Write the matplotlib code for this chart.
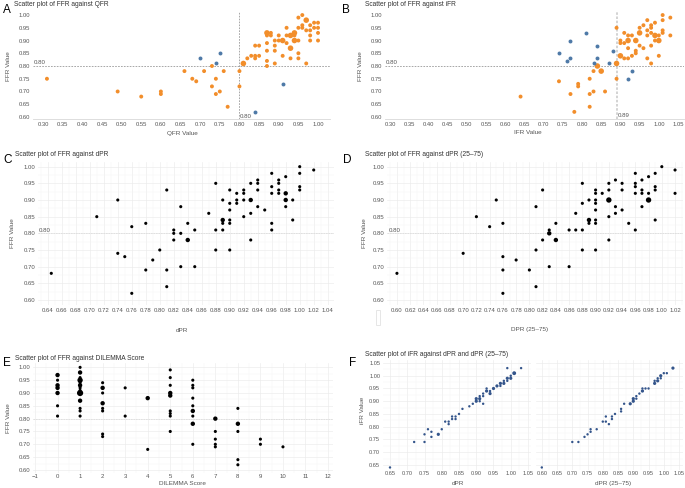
import numpy as np
import matplotlib
matplotlib.use("Agg")
import matplotlib.pyplot as plt
from matplotlib.ticker import MultipleLocator
from matplotlib.patches import Rectangle

plt.rcParams['font.family'] = ['Liberation Sans', 'DejaVu Sans']

# ---------------- data ----------------
# A: FFR vs QFR  (n = number of overlapping patients at that point)
a_orange_x = [0.31, 0.49, 0.55, 0.60, 0.60, 0.66, 0.68, 0.69, 0.71, 0.73, 0.73, 0.74, 0.74, 0.75,
              0.76, 0.77, 0.80, 0.80, 0.81, 0.82, 0.83, 0.84, 0.84, 0.84, 0.85, 0.85, 0.87, 0.87,
              0.87, 0.87, 0.87, 0.87, 0.88, 0.88, 0.89, 0.89, 0.89, 0.89, 0.90, 0.90, 0.91, 0.91,
              0.92, 0.92, 0.92, 0.93, 0.93, 0.93, 0.94, 0.94, 0.94, 0.95, 0.95, 0.95, 0.95, 0.95,
              0.96, 0.96, 0.96, 0.97, 0.97, 0.97, 0.98, 0.98, 0.98, 0.98, 0.99, 0.99, 1.00, 1.00,
              1.00, 1.00]
a_orange_y = [0.75, 0.70, 0.68, 0.70, 0.69, 0.78, 0.75, 0.74, 0.78, 0.80, 0.72, 0.75, 0.69, 0.70,
              0.78, 0.64, 0.78, 0.72, 0.81, 0.83, 0.84, 0.88, 0.84, 0.83, 0.88, 0.84, 0.93, 0.92,
              0.89, 0.86, 0.82, 0.80, 0.93, 0.92, 0.90, 0.88, 0.86, 0.81, 0.92, 0.90, 0.90, 0.84,
              0.95, 0.92, 0.89, 0.92, 0.87, 0.83, 0.93, 0.92, 0.90, 0.99, 0.95, 0.90, 0.85, 0.83,
              1.00, 0.96, 0.95, 0.98, 0.94, 0.81, 0.96, 0.94, 0.92, 0.90, 0.97, 0.95, 0.97, 0.95,
              0.93, 0.90]
a_orange_n = [1, 1, 1, 1, 1, 1, 1, 1, 1, 1, 1, 1, 1, 1,
              1, 1, 1, 1, 2, 1, 1, 1, 1, 1, 1, 1, 2, 1,
              1, 1, 1, 1, 1, 1, 1, 1, 1, 1, 1, 1, 2, 1,
              1, 1, 1, 2, 2, 1, 2, 1, 2, 1, 1, 1, 1, 1,
              1, 1, 1, 2, 1, 1, 1, 1, 1, 1, 1, 1, 1, 1,
              1, 1]
a_blue_x = [0.70, 0.74, 0.75, 0.84, 0.91]
a_blue_y = [0.83, 0.81, 0.85, 0.62, 0.73]

# B: FFR vs iFR
b_orange_x = [0.64, 0.74, 0.77, 0.78, 0.79, 0.79, 0.82, 0.82, 0.82, 0.83, 0.83, 0.84, 0.85, 0.86,
              0.89, 0.89, 0.89, 0.90, 0.90, 0.90, 0.91, 0.91, 0.91, 0.92, 0.92, 0.92, 0.92, 0.93,
              0.93, 0.94, 0.94, 0.94, 0.95, 0.95, 0.95, 0.96, 0.96, 0.97, 0.97, 0.97, 0.97, 0.98,
              0.98, 0.98, 0.98, 0.98, 0.99, 0.99, 0.99, 1.00, 1.00, 1.00, 1.01, 1.01, 1.01, 1.01,
              1.03, 1.03]
b_orange_y = [0.68, 0.74, 0.69, 0.62, 0.73, 0.72, 0.75, 0.69, 0.64, 0.78, 0.70, 0.80, 0.78, 0.70,
              0.95, 0.81, 0.75, 0.90, 0.89, 0.84, 0.93, 0.89, 0.83, 0.92, 0.90, 0.87, 0.83, 0.92,
              0.84, 0.90, 0.86, 0.85, 0.95, 0.93, 0.88, 0.96, 0.87, 0.98, 0.94, 0.92, 0.83, 0.96,
              0.95, 0.93, 0.88, 0.81, 0.97, 0.92, 0.90, 0.92, 0.90, 0.84, 1.00, 0.98, 0.94, 0.93,
              0.99, 0.92]
b_orange_n = [1, 1, 1, 1, 1, 1, 1, 1, 1, 1, 1, 2, 2, 1,
              1, 2, 1, 1, 1, 2, 1, 1, 1, 1, 2, 1, 1, 1,
              1, 2, 1, 1, 1, 2, 1, 1, 1, 1, 1, 1, 1, 1,
              1, 1, 1, 1, 1, 2, 1, 1, 2, 1, 1, 1, 1, 1,
              1, 1]
b_blue_x = [0.74, 0.76, 0.77, 0.77, 0.81, 0.84, 0.84, 0.83, 0.87, 0.88, 0.92, 0.93]
b_blue_y = [0.85, 0.82, 0.83, 0.90, 0.93, 0.88, 0.83, 0.81, 0.81, 0.86, 0.75, 0.78]

# C: FFR vs dPR
c_x = [0.645, 0.71, 0.74, 0.74, 0.75, 0.76, 0.76, 0.78, 0.78, 0.79, 0.80, 0.81, 0.81, 0.81,
       0.82, 0.82, 0.82, 0.83, 0.83, 0.83, 0.84, 0.84, 0.85, 0.85, 0.87, 0.88, 0.88, 0.88,
       0.89, 0.89, 0.89, 0.89, 0.90, 0.90, 0.90, 0.90, 0.90, 0.90, 0.91, 0.91, 0.91, 0.92,
       0.92, 0.92, 0.92, 0.93, 0.93, 0.93, 0.93, 0.94, 0.94, 0.94, 0.94, 0.95, 0.96, 0.96,
       0.96, 0.96, 0.96, 0.97, 0.97, 0.97, 0.97, 0.98, 0.98, 0.98, 0.98, 0.99, 0.99, 1.00,
       1.00, 1.00, 1.00, 1.02]
c_y = [0.68, 0.85, 0.90, 0.74, 0.73, 0.82, 0.62, 0.83, 0.69, 0.72, 0.75, 0.93, 0.69, 0.64,
       0.81, 0.80, 0.78, 0.88, 0.80, 0.70, 0.83, 0.78, 0.81, 0.70, 0.86, 0.95, 0.81, 0.75,
       0.90, 0.84, 0.83, 0.81, 0.93, 0.89, 0.87, 0.84, 0.83, 0.75, 0.92, 0.90, 0.89, 0.93,
       0.92, 0.90, 0.85, 0.95, 0.90, 0.86, 0.78, 0.96, 0.95, 0.93, 0.88, 0.87, 0.98, 0.94,
       0.92, 0.83, 0.81, 0.96, 0.95, 0.93, 0.92, 0.97, 0.92, 0.90, 0.88, 0.90, 0.84, 1.00,
       0.98, 0.94, 0.93, 0.99]
c_n = [1, 1, 1, 1, 1, 1, 1, 1, 1, 1, 1, 1, 1, 1,
       1, 1, 1, 1, 1, 1, 1, 2, 1, 1, 1, 1, 1, 1,
       1, 2, 1, 1, 1, 1, 1, 1, 1, 1, 1, 1, 1, 1,
       1, 1, 1, 1, 2, 1, 1, 1, 1, 1, 1, 1, 1, 1,
       1, 1, 1, 1, 1, 1, 1, 1, 2, 2, 1, 1, 1, 1,
       1, 1, 1, 1]

# D: FFR vs dPR (25-75)
d_x = [0.60, 0.70, 0.72, 0.74, 0.75, 0.76, 0.76, 0.76, 0.76, 0.78, 0.80, 0.81, 0.81, 0.81,
       0.82, 0.82, 0.83, 0.83, 0.83, 0.84, 0.84, 0.86, 0.86, 0.87, 0.87, 0.88, 0.88, 0.88,
       0.88, 0.89, 0.89, 0.89, 0.90, 0.90, 0.90, 0.90, 0.90, 0.90, 0.90, 0.90, 0.91, 0.92,
       0.92, 0.92, 0.92, 0.92, 0.93, 0.93, 0.93, 0.94, 0.94, 0.94, 0.95, 0.96, 0.96, 0.96,
       0.96, 0.96, 0.97, 0.97, 0.97, 0.97, 0.98, 0.98, 0.98, 0.99, 0.99, 0.99, 0.99, 1.00,
       1.02, 1.02]
d_y = [0.68, 0.74, 0.85, 0.82, 0.90, 0.83, 0.73, 0.69, 0.62, 0.72, 0.69, 0.88, 0.75, 0.64,
       0.93, 0.78, 0.81, 0.80, 0.70, 0.83, 0.78, 0.81, 0.70, 0.86, 0.81, 0.95, 0.89, 0.81,
       0.75, 0.90, 0.84, 0.83, 0.93, 0.92, 0.90, 0.89, 0.87, 0.84, 0.83, 0.75, 0.92, 0.95,
       0.93, 0.90, 0.85, 0.78, 0.86, 0.96, 0.88, 0.95, 0.93, 0.87, 0.83, 0.98, 0.95, 0.94,
       0.92, 0.81, 0.96, 0.93, 0.92, 0.88, 0.97, 0.92, 0.90, 0.98, 0.94, 0.93, 0.84, 1.00,
       0.99, 0.92]
d_n = [1, 1, 1, 1, 1, 1, 1, 1, 1, 1, 1, 1, 1, 1,
       1, 1, 1, 2, 1, 1, 2, 1, 1, 1, 1, 1, 1, 1,
       1, 1, 2, 1, 1, 1, 1, 1, 1, 1, 1, 1, 1, 1,
       1, 3, 1, 1, 1, 1, 1, 1, 1, 1, 1, 1, 1, 1,
       1, 1, 1, 1, 1, 1, 1, 1, 3, 1, 1, 1, 1, 1,
       1, 1]

# E: FFR vs DILEMMA score
e_x = [0, 0, 0, 0, 0, 0, 0,
       1, 1, 1, 1, 1, 1, 1, 1, 1, 1, 1, 1, 1,
       2, 2, 2, 2, 2, 2, 2, 2,
       3, 3, 4, 4,
       5, 5, 5, 5, 5, 5, 5, 5, 5,
       6, 6, 6, 6, 6, 6, 6, 6, 6,
       7, 7, 7, 7, 7,
       8, 8, 8, 8, 8,
       9, 9, 10]
e_y = [0.97, 0.95, 0.93, 0.92, 0.90, 0.85, 0.81,
       1.00, 0.98, 0.96, 0.95, 0.94, 0.93, 0.92, 0.91, 0.90, 0.87, 0.84, 0.83, 0.81,
       0.94, 0.92, 0.90, 0.86, 0.84, 0.83, 0.74, 0.73,
       0.92, 0.81, 0.88, 0.68,
       0.99, 0.96, 0.93, 0.90, 0.89, 0.83, 0.82, 0.81, 0.75,
       0.95, 0.93, 0.92, 0.88, 0.85, 0.83, 0.81, 0.78, 0.70,
       0.80, 0.75, 0.72, 0.70, 0.69,
       0.84, 0.78, 0.75, 0.64, 0.62,
       0.72, 0.70, 0.69]
e_n = [2, 1, 2, 2, 2, 1, 1,
       1, 2, 1, 3, 1, 2, 1, 1, 4, 2, 1, 1, 1,
       1, 2, 1, 2, 1, 1, 1, 1,
       1, 1, 2, 1,
       1, 1, 1, 2, 2, 1, 1, 1, 1,
       1, 1, 1, 1, 1, 2, 1, 2, 1,
       2, 1, 1, 1, 1,
       1, 2, 1, 1, 1,
       1, 1, 1]

# F: iFR vs dPR and vs dPR (25-75)
f_dpr = [0.65, 0.72, 0.75, 0.75, 0.76, 0.77, 0.77, 0.79, 0.80, 0.81, 0.82, 0.82, 0.83, 0.83,
         0.84, 0.84, 0.85, 0.86, 0.88, 0.89, 0.90, 0.90, 0.91, 0.91, 0.91, 0.92, 0.92, 0.92,
         0.93, 0.93, 0.94, 0.94, 0.95, 0.96, 0.97, 0.97, 0.98, 0.98, 0.99, 0.99, 0.99, 1.00,
         1.00, 1.01, 1.03]
f_dpr_ifr = [0.64, 0.74, 0.74, 0.77, 0.79, 0.78, 0.76, 0.77, 0.79, 0.82, 0.82, 0.81, 0.83, 0.84,
             0.84, 0.83, 0.85, 0.87, 0.88, 0.89, 0.90, 0.91, 0.91, 0.92, 0.90, 0.89, 0.93, 0.92,
             0.95, 0.94, 0.94, 0.93, 0.95, 0.96, 0.97, 0.96, 0.97, 0.98, 0.98, 1.03, 0.99, 0.99,
             1.00, 1.01, 1.03]
f_dpr_n = [1, 1, 1, 1, 1, 1, 1, 2, 1, 1, 1, 1, 1, 1,
           1, 1, 1, 1, 1, 1, 2, 2, 2, 1, 1, 1, 1, 1,
           1, 2, 1, 2, 2, 2, 2, 1, 2, 1, 1, 1, 2, 2,
           1, 3, 1]
f_q_x = [0.60, 0.70, 0.72, 0.74, 0.75, 0.76, 0.76, 0.78, 0.80, 0.81, 0.81, 0.82, 0.83, 0.83,
         0.84, 0.86, 0.86, 0.87, 0.89, 0.90, 0.90, 0.91, 0.91, 0.92, 0.93, 0.93, 0.94, 0.95,
         0.97, 0.97, 0.98, 0.98, 0.99, 0.99, 1.00, 1.01, 1.03]
f_q_ifr = [0.64, 0.74, 0.74, 0.76, 0.77, 0.78, 0.79, 0.79, 0.82, 0.84, 0.82, 0.81, 0.83, 0.84,
           0.85, 0.86, 0.87, 0.89, 0.89, 0.90, 0.91, 0.91, 0.92, 0.93, 0.94, 0.95, 0.95, 0.95,
           0.97, 0.98, 0.98, 0.99, 0.99, 1.00, 1.01, 1.01, 1.03]
f_q_n = [1, 1, 1, 1, 1, 1, 1, 1, 1, 1, 1, 1, 1, 1,
         1, 1, 1, 1, 2, 2, 2, 1, 1, 1, 2, 1, 1, 1,
         2, 1, 2, 1, 1, 2, 1, 1, 2]

# ---------------- figure ----------------
W, H = 685, 488
ORANGE = '#F28E2B'
BLUE = '#4E79A7'
NAVY = '#34558B'
TXT = '#555555'

fig = plt.figure(figsize=(W / 100, H / 100), dpi=100)


def px_axes(x0, y0, x1, y1):
    return fig.add_axes([x0 / W, 1 - y1 / H, (x1 - x0) / W, (y1 - y0) / H])


def ftext(x, y, s, **kw):
    kw.setdefault('color', TXT)
    kw.setdefault('fontsize', 4.6)
    kw.setdefault('va', 'center')
    fig.text(x / W, 1 - y / H, s, **kw)


def sizes(n, base, grow=1.0):
    return [base * (1 + grow * (k - 1)) for k in n]


def tableau_style(ax):
    for side in ['top', 'right', 'left']:
        ax.spines[side].set_visible(False)
    ax.spines['bottom'].set_color('#d8d8d8')
    ax.spines['bottom'].set_linestyle((0, (1, 1)))
    ax.spines['bottom'].set_linewidth(0.6)
    ax.tick_params(length=0, labelsize=4.2, colors=TXT, pad=2)
    ax.yaxis.set_major_locator(MultipleLocator(0.05))
    ax.xaxis.set_major_locator(MultipleLocator(0.05))
    ax.xaxis.set_major_formatter(lambda v, p: f'{v:.2f}')
    ax.yaxis.set_major_formatter(lambda v, p: f'{v:.2f}')


def minimal_style(ax, xmaj, ymaj=0.05, fmt='{:.2f}', size=4.3, xpad=2):
    for side in ax.spines:
        ax.spines[side].set_visible(False)
    ax.tick_params(which='both', length=0, labelsize=size, colors=TXT, pad=2)
    ax.tick_params(axis='x', pad=xpad)
    ax.xaxis.set_major_locator(MultipleLocator(xmaj))
    ax.xaxis.set_minor_locator(MultipleLocator(xmaj / 2))
    ax.yaxis.set_major_locator(MultipleLocator(ymaj))
    ax.yaxis.set_minor_locator(MultipleLocator(ymaj / 2))
    ax.xaxis.set_major_formatter(lambda v, p: fmt.format(v))
    ax.yaxis.set_major_formatter(lambda v, p: f'{v:.2f}')
    ax.grid(which='major', color='#ebebeb', lw=0.45)
    ax.grid(which='minor', color='#f4f4f4', lw=0.3)
    ax.set_axisbelow(True)


# ---- A ----
axA = px_axes(33, 12, 330, 119)
axA.scatter(a_orange_x, a_orange_y, s=sizes(a_orange_n, 8), c=ORANGE, lw=0, zorder=3)
axA.scatter(a_blue_x, a_blue_y, s=8, c=BLUE, lw=0, zorder=3)
axA.set_xlim(0.2745, 1.0305)
axA.set_ylim(0.592, 1.012)
tableau_style(axA)
axA.axhline(0.80, color='#999999', lw=0.6, ls=(0, (2, 1.5)), zorder=2)
axA.axvline(0.80, color='#999999', lw=0.6, ls=(0, (2, 1.5)), zorder=2)
axA.text(0.277, 0.802, '0.80', fontsize=4.4, color=TXT, va='bottom')
axA.text(0.801, 0.603, '0.80', fontsize=4.4, color=TXT, va='center')

# ---- B ----
axB = px_axes(385, 12, 684, 119)
axB.scatter(b_orange_x, b_orange_y, s=sizes(b_orange_n, 8), c=ORANGE, lw=0, zorder=3)
axB.scatter(b_blue_x, b_blue_y, s=8, c=BLUE, lw=0, zorder=3)
axB.set_xlim(0.287, 1.0656)
axB.set_ylim(0.592, 1.012)
tableau_style(axB)
axB.axhline(0.80, color='#999999', lw=0.6, ls=(0, (2, 1.5)), zorder=2)
axB.axvline(0.89, color='#cccccc', lw=1.2, ls=(0, (1.5, 1)), zorder=2)
axB.text(0.29, 0.802, '0.80', fontsize=4.4, color=TXT, va='bottom')
axB.text(0.893, 0.607, '0.89', fontsize=4.4, color=TXT, va='center')

# ---- C ----
axC = px_axes(38, 162, 334, 305)
axC.scatter(c_x, c_y, s=sizes(c_n, 5), c='black', lw=0, zorder=3)
axC.set_xlim(0.626, 1.049)
axC.set_ylim(0.585, 1.014)
minimal_style(axC, 0.02)
axC.axhline(0.80, color='#dddddd', lw=0.6, ls=(0, (2, 1)), zorder=1)
axC.text(0.6275, 0.802, '0.80', fontsize=4.4, color=TXT, va='bottom')

# ---- D ----
axD = px_axes(387, 162, 683, 305)
axD.scatter(d_x, d_y, s=sizes(d_n, 5), c='black', lw=0, zorder=3)
axD.set_xlim(0.585, 1.032)
axD.set_ylim(0.585, 1.014)
minimal_style(axD, 0.02)
axD.axhline(0.80, color='#dddddd', lw=0.6, ls=(0, (2, 1)), zorder=1)
axD.text(0.587, 0.802, '0.80', fontsize=4.4, color=TXT, va='bottom')
# faint empty box left of the D tick labels, as in the source image
fig.patches.append(Rectangle((376 / W, 1 - 325 / H), 4 / W, 15 / H, transform=fig.transFigure,
                             fill=False, edgecolor='#e2e2e2', lw=0.6))

# ---- E ----
axE = px_axes(33, 363, 333, 473)
axE.scatter(e_x, e_y, s=sizes(e_n, 5), c='black', lw=0, zorder=3)
axE.set_xlim(-1.089, 12.22)
axE.set_ylim(0.588, 1.017)
minimal_style(axE, 1, xpad=0.8)
axE.xaxis.set_major_formatter(lambda v, p: f'{v:.0f}'.replace('-', '\u2212'))
axE.axhline(0.80, color='#dddddd', lw=0.6, ls=(0, (2, 1)), zorder=1)

# ---- F ----
axF1 = px_axes(383, 360, 531, 470)
axF1.scatter(f_dpr, f_dpr_ifr, s=sizes(f_dpr_n, 3, 0.8), c=NAVY, lw=0, zorder=3)
axF1.set_xlim(0.6297, 1.0587)
axF1.set_ylim(0.630, 1.0618)
minimal_style(axF1, 0.05, size=4.1, xpad=0.8)

axF2 = px_axes(536, 360, 683, 470)
axF2.scatter(f_q_x, f_q_ifr, s=sizes(f_q_n, 3, 0.8), c=NAVY, lw=0, zorder=3)
axF2.set_xlim(0.581, 1.063)
axF2.set_ylim(0.630, 1.0618)
minimal_style(axF2, 0.05, size=4.1, xpad=0.8)
axF2.tick_params(axis='y', labelleft=False)

# ---------------- titles, letters, axis labels ----------------
title_kw = dict(fontsize=4.8, color='#333333', ha='left')
letter_kw = dict(fontsize=8.5, color='black', ha='left')

ftext(3, 10, 'A', **letter_kw)
ftext(14, 5, 'Scatter plot of FFR against QFR', **title_kw)
ftext(342, 10, 'B', **letter_kw)
ftext(365, 5, 'Scatter plot of FFR against iFR', **title_kw)
ftext(3, 160, 'C', **letter_kw)
ftext(15, 155, 'Scatter plot of FFR against dPR', **title_kw)
ftext(343, 160, 'D', **letter_kw)
ftext(365, 155, 'Scatter plot of FFR against dPR (25\u201375)', **title_kw)
ftext(3, 363, 'E', **letter_kw)
ftext(15, 358, 'Scatter plot of FFR against DILEMMA Score', **title_kw)
ftext(349, 363, 'F', **letter_kw)
ftext(365, 355, 'Scatter plot of iFR against dPR and dPR (25\u201375)', **title_kw)

ylab_kw = dict(rotation=90, ha='center')
ftext(9, 66, 'FFR Value', **ylab_kw)
ftext(361, 66, 'FFR Value', **ylab_kw)
ftext(12, 233, 'FFR Value', **ylab_kw)
ftext(365, 233, 'FFR Value', **ylab_kw)
ftext(9, 418, 'FFR Value', **ylab_kw)
ftext(362, 410, 'iFR Value', **ylab_kw)

ftext(182, 133, 'QFR Value', ha='center')
ftext(528, 133, 'IFR Value', ha='center')
ftext(182, 330, 'dPR', ha='center')
ftext(530, 330, 'DPR (25\u201375)', ha='center')
ftext(182, 483.5, 'DILEMMA Score', ha='center')
ftext(458, 483.5, 'dPR', ha='center')
ftext(613, 483.5, 'dPR (25\u201375)', ha='center')

fig.savefig('out.png', dpi=100)
